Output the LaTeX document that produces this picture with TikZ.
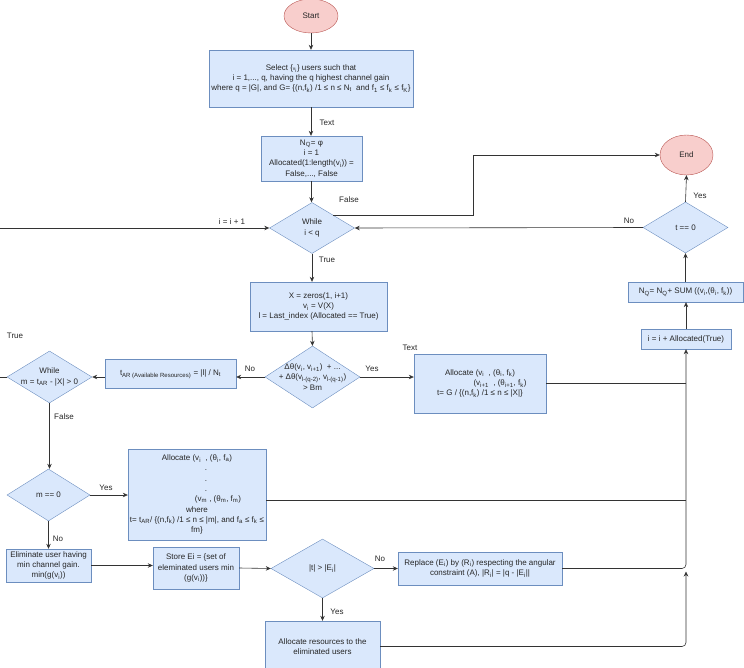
\documentclass[tikz,border=0pt]{standalone}
\usepackage{fontspec}
\setmainfont{Liberation Sans}
\usetikzlibrary{shapes.geometric,arrows.meta,calc}
\newcommand\sbs[1]{\textsubscript{#1}}
\definecolor{boxfill}{HTML}{DAE8FC}
\definecolor{boxline}{HTML}{6C8EBF}
\definecolor{termfill}{HTML}{F8CECC}
\definecolor{termline}{HTML}{B85450}
\begin{document}
\begin{tikzpicture}[x=1pt,y=-1pt,
  every node/.style={font=\fontsize{8}{10.3}\selectfont, text=black!85},
  proc/.style={rectangle, draw=boxline, fill=boxfill, align=center, inner sep=1pt},
  dec/.style={diamond, draw=boxline, fill=boxfill, inner sep=0pt},
  term/.style={ellipse, draw=termline, fill=termfill, inner sep=0pt},
  conn/.style={draw=black!80, line width=0.6pt, -{Stealth[length=5pt,width=4.5pt]}},
  plain/.style={draw=black!80, line width=0.6pt},
  lbl/.style={inner sep=0pt}
]
\useasboundingbox (0,0) rectangle (744,668);

% nodes
\node[term, minimum width=54, minimum height=34] (start) at (311,16) {Start};
\node[proc, minimum width=204, minimum height=57] (sel) at (311,78.5)
  {Select \{{\fontsize{5}{5}\selectfont v\sbs{i}}\} users such that\\
   i = 1,..., q, having the q highest channel gain\\
   where q = |G|, and G= \{(n,f\sbs{k}) /1 ≤ n ≤ N\sbs{t}\ \ and f\sbs{1} ≤ f\sbs{k} ≤ f\sbs{K}\}};
\node[proc, minimum width=101, minimum height=45] (nq) at (311.5,158.5)
  {N\sbs{Q}= φ\\ i = 1\\ Allocated(1:length(v\sbs{i})) =\\ False,..., False};
\node[dec, minimum width=85, minimum height=51,
  label={[align=center]center:While\\ i < q}] (w1) at (312,228) {};
\node[term, minimum width=53, minimum height=40] (end) at (686.5,155) {End};
\node[dec, minimum width=85, minimum height=51,
  label={center:t == 0}] (t0) at (685.5,227.5) {};
\node[proc, minimum width=115, minimum height=20] (nqs) at (685.5,292)
  {N\sbs{Q}= N\sbs{Q}+ SUM ((v\sbs{i},(θ\sbs{i}, f\sbs{k}))};
\node[proc, minimum width=90, minimum height=20] (iinc) at (686,339)
  {i = i + Allocated(True)};
\node[proc, minimum width=137, minimum height=49] (xbox) at (318.5,306.5)
  {X = zeros(1, i+1)\\ v\sbs{i} = V(X)\\ l = Last\_index (Allocated == True)};
\node[dec, minimum width=95, minimum height=62,
  label={[align=center]center:Δθ(v\sbs{i}, v\sbs{i+1})\ \ + ...\\ + Δθ(v\sbs{l-(q-2)}, v\sbs{l-(q-1)})\\ > Bm}] (delta) at (312.5,377) {};
\node[proc, minimum width=131, minimum height=29] (tar) at (170.5,374)
  {t\sbs{AR (Available Resources)} = |l| / N\sbs{t}};
\node[dec, minimum width=85, minimum height=52,
  label={[align=center]center:While\\ m = t\sbs{AR} - |X| > 0}] (wm) at (49.5,377) {};
\node[proc, minimum width=132, minimum height=59] (alli) at (480,383.5)
  {Allocate (v\sbs{i}\ \ , (θ\sbs{i}, f\sbs{k})\\
   \hspace*{40pt}(v\sbs{i+1}\ \ , (θ\sbs{i+1}, f\sbs{k})\\
   t= G / \{(n,f\sbs{k}) /1 ≤ n ≤ |X|\}};
\node[dec, minimum width=83, minimum height=52,
  label={center:m == 0}] (m0) at (48.5,495) {};
\node[proc, minimum width=138, minimum height=91] (allm) at (197,494.5)
  {Allocate (v\sbs{i}\ \ , (θ\sbs{i}, f\sbs{a})\\
   \hspace*{18pt}.\\ \hspace*{18pt}.\\ \hspace*{18pt}.\\
   \hspace*{42pt}(v\sbs{m} , (θ\sbs{m}, f\sbs{m})\\
   where\\
   t= t\sbs{AR}/ \{(n,f\sbs{k}) /1 ≤ n ≤ |m|, and f\sbs{a} ≤ f\sbs{k} ≤\\
   fm\}};
\node[proc, minimum width=85, minimum height=33] (elim) at (48.5,565.5)
  {Eliminate user having\\ min channel gain.\\ min(g(v\sbs{i}))};
\node[proc, minimum width=86, minimum height=42] (store) at (196,568)
  {Store Ei = \{set of\\ eleminated users min\\ (g(v\sbs{i}))\}};
\node[dec, minimum width=103, minimum height=59,
  label={center:|t| > |E\sbs{i}|}] (tE) at (322.5,568.5) {};
\node[proc, minimum width=164, minimum height=33] (repl) at (480,568.5)
  {Replace (E\sbs{i}) by (R\sbs{i}) respecting the angular\\ constraint (A), |R\sbs{i}| = |q - |E\sbs{i}||};
\node[proc, minimum width=115, minimum height=51] (allres) at (322.5,646.5)
  {Allocate resources to the\\ eliminated users};

% connectors
\draw[conn] (start.south) -- (sel.north);
\draw[conn] (sel.south) -- (sel.south |- nq.north);
\node[lbl] at (327,123) {Text};
\draw[conn] (nq.south) -- (nq.south |- w1.north);
\coordinate (w1ne) at ($(w1.north)!0.5!(w1.east)$);
\draw[conn] (w1ne) -- ++(139.5,0) |- (end.west);
\node[lbl] at (349,200) {False};
\draw[conn] (t0.west) -- (w1.east);
\node[lbl] at (629,221) {No};
\draw[conn] (t0.north) -- (end.south);
\node[lbl] at (700,196) {Yes};
\draw[conn] (w1.south) -- (w1.south |- xbox.north);
\node[lbl] at (327,260) {True};
\draw[conn] (wm.west) -- ++(-10,0) |- (w1.west);
\node[lbl] at (232,222) {i = i + 1};
\node[lbl] at (15,336) {True};
\draw[conn] (w1.south |- xbox.south) -- (delta.north);
\draw[conn] (delta.west) -- (delta.west -| tar.east);
\node[lbl] at (250,369) {No};
\draw[conn] (tar.west |- wm.east) -- (wm.east);
\draw[conn] (wm.south) -- (wm.south |- m0.north);
\node[lbl] at (64,417) {False};
\draw[conn] (m0.east) -- (m0.east -| allm.west);
\node[lbl] at (106,488) {Yes};
\draw[conn] (m0.south) -- (m0.south |- elim.north);
\node[lbl] at (58,539) {No};
\draw[conn] (elim.east) -- (elim.east -| store.west);
\draw[conn] (store.east) -- (tE.west);
\draw[conn] (tE.east) -- (tE.east -| repl.west);
\node[lbl] at (380,559) {No};
\draw[conn] (tE.south) -- (tE.south |- allres.north);
\node[lbl] at (337,612) {Yes};
\draw[conn] (delta.east) -- (delta.east -| alli.west);
\node[lbl] at (372,369) {Yes};
\node[lbl] at (410,348) {Text};
\draw[plain] (alli.east) -- (alli.east -| iinc.south);
\draw[plain] ($(allm.east)+(0,6)$) -- ($(allm.east -| iinc.south)+(0,6)$);
\draw[conn, rounded corners=4] (repl.east) -| (iinc.south);
\draw[conn, rounded corners=4] (allres.east) -| ($(repl.east -| iinc.south)+(0,3)$);
\draw[conn] (iinc.north) -- (iinc.north |- nqs.south);
\draw[conn] (nqs.north) -- (t0.south);
\end{tikzpicture}
\end{document}
